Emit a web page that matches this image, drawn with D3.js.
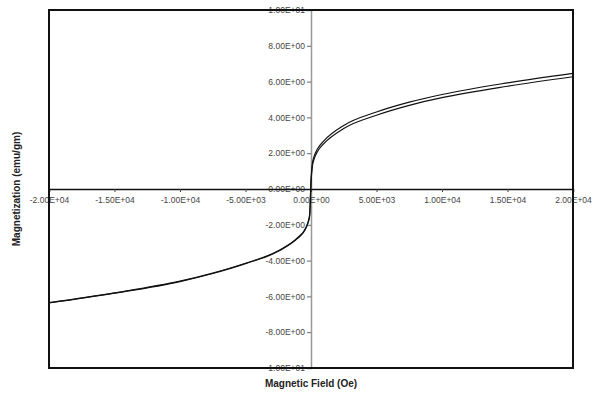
<!DOCTYPE html>
<html>
<head>
<meta charset="utf-8">
<script src="https://cdn.jsdelivr.net/npm/d3@7"></script>
<style>
  body { margin: 0; background: #fff; }
  text { font-family: "Liberation Sans", Arial, sans-serif; }
</style>
</head>
<body>
<div id="chart"></div>
<script>
// field values (Oe) shared by both branches
var fieldOe = [-20000, -15000, -10000, -7500, -5000, -2500, -1000, -500, -250, -100, 0,
               100, 250, 500, 1000, 2500, 5000, 7500, 10000, 15000, 20000];
// branch coming down from +H (upper on the positive side)
var magDown = [-6.35, -5.8, -5.15, -4.7, -4.15, -3.45, -2.7, -2.3, -1.9, -1.4, 0.5,
               1.4, 1.85, 2.25, 2.7, 3.55, 4.3, 4.85, 5.28, 5.93, 6.46];
// branch going up from -H (lower on the positive side)
var magUp = [-6.37, -5.82, -5.17, -4.72, -4.17, -3.48, -2.74, -2.35, -1.95, -1.5, 0.3,
             1.25, 1.7, 2.1, 2.55, 3.38, 4.12, 4.67, 5.1, 5.74, 6.27];

var xTicks = [-20000, -15000, -10000, -5000, 0, 5000, 10000, 15000, 20000];
var yTicks = [-10, -8, -6, -4, -2, 0, 2, 4, 6, 8, 10];

var width = 600, height = 402;
var margin = {top: 10, right: 27, bottom: 34, left: 49};

var svg = d3.select('#chart').append('svg')
    .attr('width', width)
    .attr('height', height);

var x = d3.scaleLinear()
    .domain([-20000, 20000])
    .range([margin.left, width - margin.right]);

var y = d3.scaleLinear()
    .domain([-10, 10])
    .range([height - margin.bottom, margin.top]);

// excel style exponent labels
function sci(v) {
    var s = v.toExponential(2).toUpperCase();
    return s.replace(/E([+-])(\d)$/, 'E$10$2');
}

// y axis (gray) through x = 0
var yAxis = svg.append('g')
    .attr('transform', 'translate(' + x(0) + ',0)')
    .call(d3.axisLeft(y).tickValues(yTicks).tickSize(4).tickPadding(2).tickFormat(sci));
yAxis.select('.domain').attr('stroke', '#999').attr('stroke-width', 1.5);
yAxis.selectAll('.tick line').attr('stroke', '#666');
yAxis.selectAll('.tick text')
    .attr('fill', '#444')
    .attr('font-size', 8.5);
yAxis.selectAll('.tick').filter(function(d) { return d === 0; }).select('line').remove();

// x axis (black) through y = 0
var xAxis = svg.append('g')
    .attr('transform', 'translate(0,' + y(0) + ')')
    .call(d3.axisBottom(x).tickValues(xTicks).tickSize(3).tickPadding(5).tickFormat(sci));
xAxis.select('.domain').attr('stroke', '#111').attr('stroke-width', 1.5);
xAxis.selectAll('.tick line').attr('stroke', '#444');
xAxis.selectAll('.tick text')
    .attr('fill', '#444')
    .attr('font-size', 8.5);

// curves
var line = d3.line()
    .x(function(d) { return x(d[0]); })
    .y(function(d) { return y(d[1]); })
    .curve(d3.curveMonotoneX);

[magDown, magUp].forEach(function(series) {
    svg.append('path')
        .datum(fieldOe.map(function(f, i) { return [f, series[i]]; }))
        .attr('fill', 'none')
        .attr('stroke', '#111')
        .attr('stroke-width', 1.2)
        .attr('d', line);
});

// plot frame
svg.append('rect')
    .attr('x', x(-20000))
    .attr('y', y(10))
    .attr('width', x(20000) - x(-20000))
    .attr('height', y(-10) - y(10))
    .attr('fill', 'none')
    .attr('stroke', '#111')
    .attr('stroke-width', 2);

// axis titles
svg.append('text')
    .attr('x', (x(-20000) + x(20000)) / 2)
    .attr('y', 387)
    .attr('text-anchor', 'middle')
    .attr('font-size', 10)
    .attr('font-weight', 'bold')
    .attr('fill', '#222')
    .text('Magnetic Field (Oe)');

svg.append('text')
    .attr('transform', 'translate(20,' + y(0) + ') rotate(-90)')
    .attr('text-anchor', 'middle')
    .attr('font-size', 10)
    .attr('font-weight', 'bold')
    .attr('fill', '#222')
    .text('Magnetization (emu/gm)');
</script>
</body>
</html>
